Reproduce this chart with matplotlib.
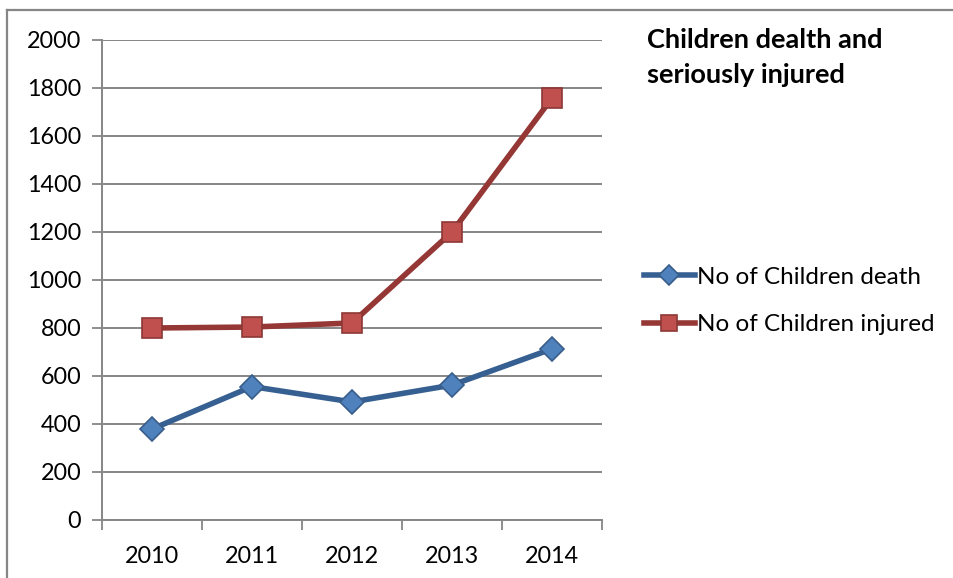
import matplotlib
matplotlib.use("Agg")
import matplotlib.pyplot as plt
from matplotlib.lines import Line2D

plt.rcParams['font.family'] = ['Lato', 'DejaVu Sans']

years = ['2010', '2011', '2012', '2013', '2014']
deaths = [379, 556, 492, 562, 713]
injured = [800, 804, 821, 1200, 1758]
yticks = [0, 200, 400, 600, 800, 1000, 1200, 1400, 1600, 1800, 2000]

W, H = 954, 578
fig = plt.figure(figsize=(W / 100, H / 100), dpi=100)
ax = fig.add_axes([102 / W, (H - 520) / H, 500 / W, 480 / H])

x = list(range(len(years)))
ax.plot(x, deaths, color='#376092', lw=4, marker='D', ms=12,
        mfc='#4F81BD', mec='#385D8A', mew=1.2, label='No of Children death', zorder=3)
ax.plot(x, injured, color='#953735', lw=4, marker='s', ms=14,
        mfc='#C0504D', mec='#8C3836', mew=1.2, label='No of Children injured', zorder=3)

ax.set_xlim(-0.5, 4.5)
ax.set_ylim(0, 2000)
ax.set_yticks(yticks)
ax.set_xticks(x)
ax.set_xticklabels(years)
# category boundary ticks on x axis
ax.set_xticks([i - 0.5 for i in range(len(years) + 1)], minor=True)
ax.tick_params(axis='x', which='major', length=0, pad=19, labelsize=16.8)
ax.tick_params(axis='x', which='minor', length=7, width=1.3, color='#868686', direction='out')
ax.tick_params(axis='y', length=7, width=1.3, color='#868686', pad=8, labelsize=16.8)

ax.yaxis.grid(True, color='#868686', lw=1.4)
ax.set_axisbelow(True)
for s in ['top', 'right']:
    ax.spines[s].set_visible(False)
for s in ['left', 'bottom']:
    ax.spines[s].set_color('#868686')
    ax.spines[s].set_linewidth(1.4)

fig.text(647 / W, 1 - 28 / H, 'Children dealth and\nseriously injured',
         fontsize=19.5, fontweight='bold', va='top', ha='left', linespacing=1.55)

fig.legend(loc='upper left', bbox_to_anchor=(634 / W, 1 - 257 / H), frameon=False,
           fontsize=17.5, handlelength=2.1, handletextpad=0.1, labelspacing=1.1,
           borderaxespad=0, markerscale=0.85)

# outer chart frame (partly cropped in the reference)
fig.add_artist(Line2D([7 / W, 1], [1 - 10 / H] * 2, color='#868686', lw=1.6))
fig.add_artist(Line2D([7 / W] * 2, [0, 1 - 10 / H], color='#868686', lw=1.6))

fig.savefig('out.png', dpi=100)
